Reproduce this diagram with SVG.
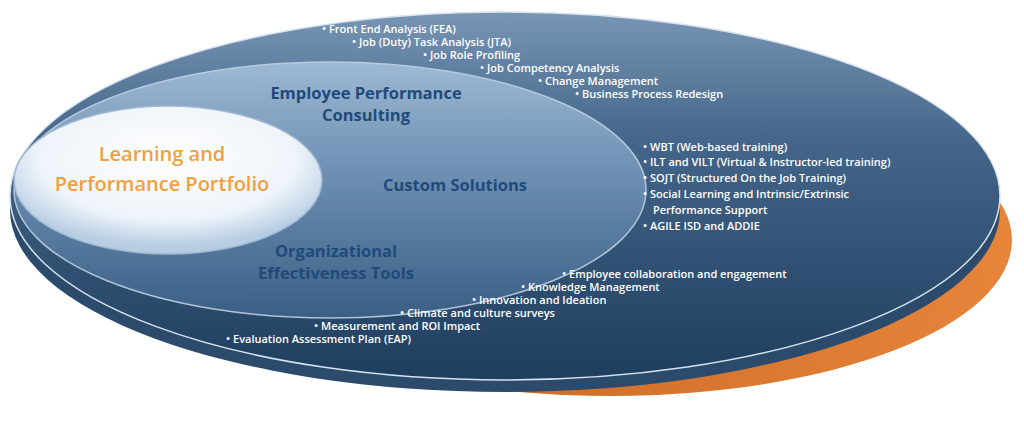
<svg xmlns="http://www.w3.org/2000/svg" width="1024" height="428" viewBox="0 0 1024 428">
<defs>
<linearGradient id="outer" x1="0" y1="0" x2="0" y2="1">
<stop offset="0" stop-color="#7895b4"/><stop offset="0.35" stop-color="#44668a"/><stop offset="1" stop-color="#1f3d5e"/>
</linearGradient>
<linearGradient id="inner" x1="0" y1="0" x2="0" y2="1">
<stop offset="0" stop-color="#a9c3dc"/><stop offset="0.5" stop-color="#6e92b6"/><stop offset="1" stop-color="#3e6389"/>
</linearGradient>
<radialGradient id="core" cx="0.5" cy="0.35" r="0.6">
<stop offset="0" stop-color="#ffffff"/><stop offset="0.7" stop-color="#eef4fa"/><stop offset="1" stop-color="#b7cde3"/>
</radialGradient>
<linearGradient id="orange" x1="0" y1="0" x2="1" y2="0">
<stop offset="0" stop-color="#c0601c"/><stop offset="1" stop-color="#e6843a"/>
</linearGradient>
<style>
.b{font-family:"Open Sans","DejaVu Sans",sans-serif;font-size:11px;font-weight:600;fill:#fff}
.h{font-family:"Open Sans","DejaVu Sans",sans-serif;font-size:16.5px;font-weight:700;fill:#1f4a7a;text-anchor:middle}
.o{font-family:"Open Sans","DejaVu Sans",sans-serif;font-size:20px;font-weight:600;fill:#f0a040;text-anchor:middle}
</style>
</defs>
<rect width="1024" height="428" fill="#fff"/>
<ellipse cx="610" cy="240" rx="402" ry="156" fill="url(#orange)"/>
<ellipse cx="505" cy="210" rx="495" ry="182" fill="#2b4a6c"/>
<ellipse cx="505" cy="196" rx="495" ry="184" fill="url(#outer)" stroke="#d8e2ee" stroke-width="1.5"/>
<g id="n_oet"><ellipse cx="330" cy="190" rx="316" ry="128" fill="url(#inner)" opacity="0.85" stroke="#c8d8ea" stroke-width="1.5"/></g>
<g id="n_core"><ellipse cx="168" cy="180" rx="154" ry="74" fill="url(#core)" stroke="#9fb8d2" stroke-width="1.5"/>
<text class="o" x="162" y="161">Learning and</text><text class="o" x="162" y="191">Performance Portfolio</text></g>
<g id="n_labels">
<text class="h" x="366" y="99">Employee Performance</text><text class="h" x="366" y="121">Consulting</text>
<text class="h" x="455" y="191">Custom Solutions</text>
<text class="h" x="336" y="257">Organizational</text><text class="h" x="336" y="279">Effectiveness Tools</text>
</g>
<g id="n_lists">
<text class="b" x="322" y="33">• Front End Analysis (FEA)</text>
<text class="b" x="352" y="46">• Job (Duty) Task Analysis (JTA)</text>
<text class="b" x="423" y="59">• Job Role Profiling</text>
<text class="b" x="480" y="72">• Job Competency Analysis</text>
<text class="b" x="538" y="85">• Change Management</text>
<text class="b" x="575" y="98">• Business Process Redesign</text>
<text class="b" x="643" y="151">• WBT (Web-based training)</text>
<text class="b" x="643" y="166">• ILT and VILT (Virtual &amp; Instructor-led training)</text>
<text class="b" x="643" y="182">• SOJT (Structured On the Job Training)</text>
<text class="b" x="643" y="198">• Social Learning and Intrinsic/Extrinsic</text>
<text class="b" x="653" y="214">Performance Support</text>
<text class="b" x="643" y="230">• AGILE ISD and ADDIE</text>
<text class="b" x="562" y="278">• Employee collaboration and engagement</text>
<text class="b" x="521" y="291">• Knowledge Management</text>
<text class="b" x="472" y="304">• Innovation and Ideation</text>
<text class="b" x="400" y="317">• Climate and culture surveys</text>
<text class="b" x="314" y="330">• Measurement and ROI Impact</text>
<text class="b" x="226" y="343">• Evaluation Assessment Plan (EAP)</text>
</g>
<g id="connectors"/>
</svg>
